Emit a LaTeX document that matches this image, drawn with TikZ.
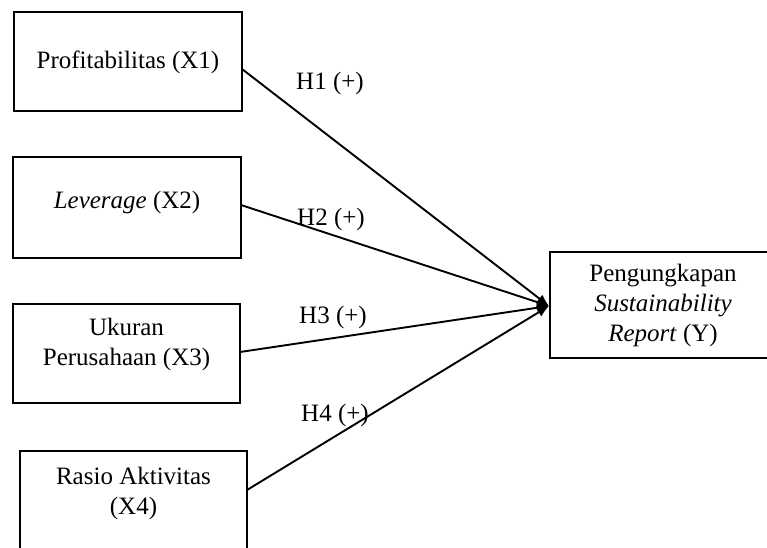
\documentclass[tikz,border=0pt]{standalone}
\usepackage{fontspec}
\setmainfont{Liberation Serif}
\usetikzlibrary{arrows.meta}
\begin{document}
\begin{tikzpicture}[x=1pt,y=-1pt,
  box/.style={draw, line width=1.9pt, inner sep=0pt},
  lbl/.style={font=\fontsize{25}{30}\selectfont, align=center, inner sep=0pt},
  arr/.style={line width=1.9pt, -{Latex[length=12pt,width=10pt]}}]
\clip (0,0) rectangle (767,547);
\fill[white] (0,0) rectangle (767,547);
% boxes
\node[box, minimum width=228pt, minimum height=99pt] (b1) at (128,61.5) {};
\node[box, minimum width=228pt, minimum height=101pt] (b2) at (127,207.5) {};
\node[box, minimum width=227pt, minimum height=99pt] (b3) at (126.5,353.5) {};
\node[box, minimum width=227pt, minimum height=99pt] (b4) at (133.5,500.5) {};
\node[box, minimum width=226pt, minimum height=106pt] (by) at (663,305) {};
% texts
\node[lbl] (t1) at (128,62) {Profitabilitas (X1)};
\node[lbl] (t2) at (127,202) {\textit{Leverage} (X2)};
\node[lbl] (t3) at (126.5,344) {Ukuran\\Perusahaan (X3)};
\node[lbl] (t4) at (133.5,493) {Rasio Aktivitas\\(X4)};
\node[lbl] (ty) at (663,305) {Pengungkapan\\\textit{Sustainability}\\\textit{Report} (Y)};
% connector ends
\coordinate (s1) at (242,69);
\coordinate (s2) at (241,205);
\coordinate (s3) at (240,352);
\coordinate (s4) at (247,490);
\coordinate (tg) at (549,306);
\draw[arr] (s1) -- (tg);
\draw[arr] (s2) -- (tg);
\draw[arr] (s3) -- (tg);
\draw[arr] (s4) -- (tg);
% labels
\node[lbl] (h1) at (330,83) {H1 (+)};
\node[lbl] (h2) at (331,219) {H2 (+)};
\node[lbl] (h3) at (333,317) {H3 (+)};
\node[lbl] (h4) at (335,415) {H4 (+)};
\end{tikzpicture}
\end{document}
